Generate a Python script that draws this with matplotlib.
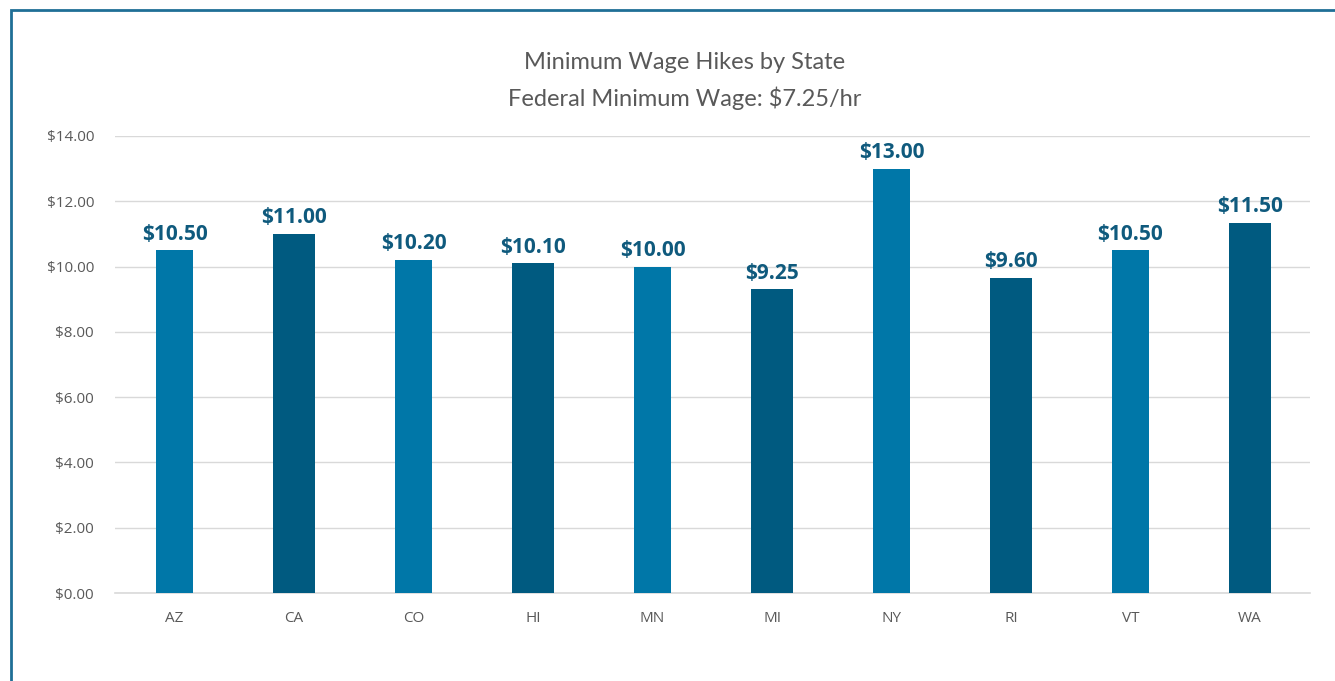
import matplotlib
matplotlib.use('Agg')
from matplotlib import pyplot as plt
from matplotlib.patches import Rectangle
from matplotlib.ticker import FuncFormatter

states = ['AZ', 'CA', 'CO', 'HI', 'MN', 'MI', 'NY', 'RI', 'VT', 'WA']
wage = [10.5, 11.0, 10.2, 10.1, 10.0, 9.3, 13.0, 9.65, 10.5, 11.35]
wage_labels = ['$10.50', '$11.00', '$10.20', '$10.10', '$10.00', '$9.25',
               '$13.00', '$9.60', '$10.50', '$11.50']

light = '#0077a8'
dark = '#005a80'
gray = '#595959'

fig = plt.figure(figsize=(13.35, 6.81), dpi=100)
ax = fig.add_axes([0.0861, 0.1292, 0.8949, 0.6711])

for i in range(len(states)):
    if i % 2 == 0:
        c, w = light, 0.31
    else:
        c, w = dark, 0.355
    ax.bar(i, wage[i], width=w, color=c, zorder=3)
    ax.annotate(wage_labels[i], (i, wage[i]), xytext=(0, 4), textcoords='offset points',
                ha='center', va='bottom', fontsize=15, fontweight='bold',
                color='#0f5a7d', family='Open Sans')

ax.set_xlim(-0.5, 9.5)
ax.set_ylim(0, 14)
ax.set_yticks(range(0, 15, 2))
ax.yaxis.set_major_formatter(FuncFormatter(lambda v, p: '${:.2f}'.format(v)))
ax.set_xticks(range(len(states)))
ax.set_xticklabels(states)
ax.grid(axis='y', color='#d9d9d9', linewidth=1, zorder=0)
for s in ['top', 'right', 'left']:
    ax.spines[s].set_visible(False)
ax.spines['bottom'].set_color('#d9d9d9')
ax.spines['bottom'].set_linewidth(1.2)
ax.tick_params(length=0, labelsize=11, labelcolor=gray, pad=13)
ax.tick_params(axis='y', pad=15)
for t in ax.get_xticklabels() + ax.get_yticklabels():
    t.set_family('Open Sans')

fig.text(0.513, 0.908, 'Minimum Wage Hikes by State', ha='center', va='center',
         fontsize=17, color=gray, family='Lato')
fig.text(0.513, 0.856, 'Federal Minimum Wage: $7.25/hr', ha='center', va='center',
         fontsize=17, color=gray, family='Lato')

fig.patches.append(Rectangle((11 / 1335, -0.1), 2, 0.9853 + 0.1, transform=fig.transFigure,
                             fill=False, edgecolor='#1f6f96', linewidth=2))

fig.savefig('out.png', dpi=100)
